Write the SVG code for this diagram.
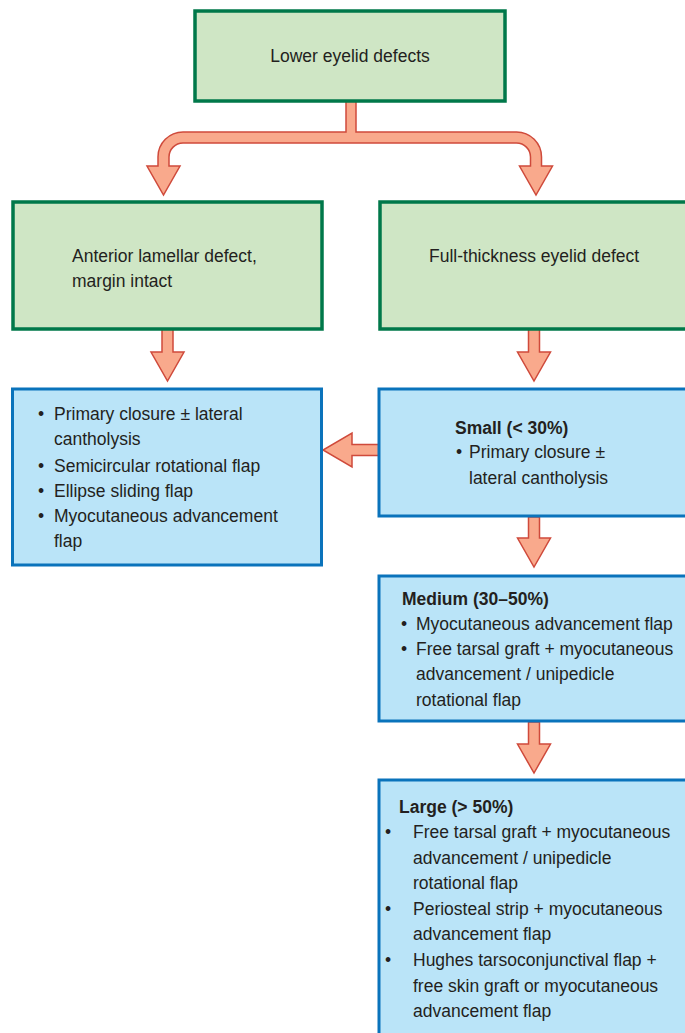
<svg xmlns="http://www.w3.org/2000/svg" width="685" height="1033" viewBox="0 0 685 1033">
<style>
.g{fill:#cfe6c5;stroke:#00784a;stroke-width:3.5}
.b{fill:#bae4f8;stroke:#0a73bb;stroke-width:3}
.a{fill:#f9a98c;stroke:#cf4a3b;stroke-width:1.5;stroke-linejoin:miter}
text{font-family:"Liberation Sans",Arial,sans-serif;font-size:17.5px;fill:#231f20}
.bd{font-weight:bold}
</style>
<rect width="685" height="1033" fill="#ffffff"/>
<g id="connectors">
<path class="a" d="M346 101 L346 132 L183 132 A25 25 0 0 0 158 157 L158 166 L147 166 L163.5 195 L180 166 L169 166 L169 157 A14 14 0 0 1 183 143 L516.5 143 A14 14 0 0 1 530.5 157 L530.5 166 L519.5 166 L536 195 L552.5 166 L541.5 166 L541.5 157 A25 25 0 0 0 516.5 132 L356 132 L356 101 Z"/>
<path class="a" d="M162 329 L162 352 L151 352 L167.5 381 L184 352 L173 352 L173 329 Z"/>
<path class="a" d="M528.5 329 L528.5 352 L517.5 352 L534 381 L550.5 352 L539.5 352 L539.5 329 Z"/>
<path class="a" d="M528.5 517 L528.5 538 L517.5 538 L534 567 L550.5 538 L539.5 538 L539.5 517 Z"/>
<path class="a" d="M528.5 722 L528.5 744 L517.5 744 L534 773 L550.5 744 L539.5 744 L539.5 722 Z"/>
<path class="a" d="M379 444.5 L352 444.5 L352 433 L323 450 L352 467 L352 455.5 L379 455.5 Z"/>
</g>
<g id="node-lower">
<rect class="g" x="195" y="11" width="310" height="90"/>
<text x="350" y="62" text-anchor="middle">Lower eyelid defects</text>
</g>
<g id="node-anterior">
<rect class="g" x="13" y="202" width="309" height="127"/>
<text x="72" y="262">Anterior lamellar defect,</text>
<text x="72" y="287">margin intact</text>
</g>
<g id="node-full">
<rect class="g" x="380" y="202" width="320" height="127"/>
<text x="429" y="262">Full-thickness eyelid defect</text>
</g>
<g id="node-anterior-options">
<rect class="b" x="12.5" y="389" width="309" height="176"/>
<text x="38" y="420">•</text><text x="54" y="420">Primary closure ± lateral</text>
<text x="54" y="445">cantholysis</text>
<text x="38" y="472">•</text><text x="54" y="472">Semicircular rotational flap</text>
<text x="38" y="497">•</text><text x="54" y="497">Ellipse sliding flap</text>
<text x="38" y="522">•</text><text x="54" y="522">Myocutaneous advancement</text>
<text x="54" y="547">flap</text>
</g>
<g id="node-small">
<rect class="b" x="379" y="389" width="320" height="127"/>
<text class="bd" x="455" y="434">Small (&lt; 30%)</text>
<text x="456" y="458">•</text><text x="469" y="458">Primary closure ±</text>
<text x="469" y="484">lateral cantholysis</text>
</g>
<g id="node-medium">
<rect class="b" x="379" y="576" width="320" height="145"/>
<text class="bd" x="402" y="605">Medium (30–50%)</text>
<text x="401" y="630">•</text><text x="416" y="630">Myocutaneous advancement flap</text>
<text x="401" y="655">•</text><text x="416" y="655">Free tarsal graft + myocutaneous</text>
<text x="416" y="680">advancement / unipedicle</text>
<text x="416" y="706">rotational flap</text>
</g>
<g id="node-large">
<rect class="b" x="379" y="780" width="320" height="270"/>
<text class="bd" x="399" y="813">Large (&gt; 50%)</text>
<text x="385" y="838">•</text><text x="413" y="838">Free tarsal graft + myocutaneous</text>
<text x="413" y="864">advancement / unipedicle</text>
<text x="413" y="889">rotational flap</text>
<text x="385" y="915">•</text><text x="413" y="915">Periosteal strip + myocutaneous</text>
<text x="413" y="940">advancement flap</text>
<text x="385" y="966">•</text><text x="413" y="966">Hughes tarsoconjunctival flap +</text>
<text x="413" y="992">free skin graft or myocutaneous</text>
<text x="413" y="1017">advancement flap</text>
</g>
</svg>
